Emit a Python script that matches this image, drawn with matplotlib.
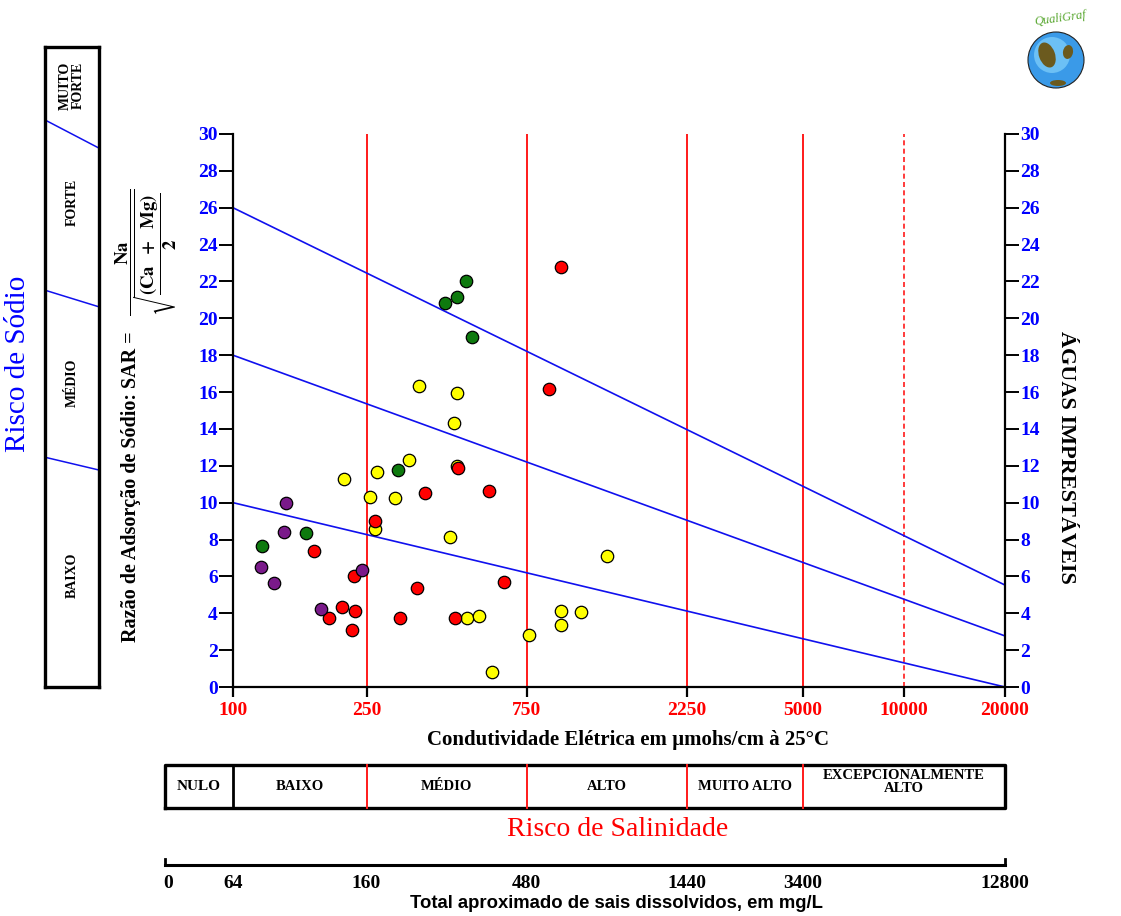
import numpy as np
import matplotlib
matplotlib.use('Agg')
import matplotlib.pyplot as plt
from matplotlib.transforms import blended_transform_factory
from matplotlib.patches import Circle, Ellipse
from matplotlib.ticker import NullLocator

# ---------------- data ----------------
purple_ce = [143.9, 142.2, 120.9, 241.9, 132.5, 182.5]
purple_sar = [9.97, 8.43, 6.53, 6.35, 5.66, 4.23]

green_ce = [311, 165.4, 122.3, 495, 466, 429.4, 516.8]
green_sar = [11.77, 8.34, 7.65, 22.04, 21.17, 20.82, 18.97]

yellow_ce = [214.7, 268, 334, 256, 303.4, 265, 357.7, 466, 455.7, 466, 443.4,
             1300, 499.3, 541, 952, 1092, 952, 764, 592.7]
yellow_sar = [11.28, 11.66, 12.32, 10.32, 10.24, 8.56, 16.33, 15.93, 14.34, 12.0,
              8.15, 7.11, 3.76, 3.87, 4.14, 4.05, 3.38, 2.82, 0.83]

red_ce = [373.6, 265, 174.7, 229.8, 353.5, 210.9, 231, 193.6, 314.6, 225.9,
          950, 876.5, 469.4, 579.4, 642.3, 459.8]
red_sar = [10.54, 9.02, 7.39, 6.04, 5.39, 4.36, 4.14, 3.74, 3.76, 3.09,
           22.8, 16.15, 11.86, 10.63, 5.68, 3.76]

# sodium hazard boundary lines (CE endpoints, SAR endpoints)
line_ce = [100, 20000]
line1_sar = [10, 0]
line2_sar = [18, 2.77]
line3_sar = [26, 5.53]

ce_ticks = [100, 250, 750, 2250, 5000, 10000, 20000]
ce_tick_labels = ['100', '250', '750', '2250', '5000', '10000', '20000']
class_bounds = [250, 750, 2250, 5000]
sar_ticks = list(range(0, 31, 2))

salinity_classes = ['BAIXO', 'MÉDIO', 'ALTO', 'MUITO ALTO', 'EXCEPCIONALMENTE\nALTO']
salinity_edges = [100, 250, 750, 2250, 5000, 20000]
tds_labels = ['64', '160', '480', '1440', '3400', '12800']
tds_ce = [100, 250, 750, 2250, 5000, 20000]

sodium_classes = ['BAIXO', 'MÉDIO', 'FORTE', 'MUITO\nFORTE']

SERIF = ['Liberation Serif', 'DejaVu Serif']
plt.rcParams['font.family'] = SERIF
plt.rcParams['mathtext.fontset'] = 'stix'

W, H = 1121, 916
fig = plt.figure(figsize=(W / 100, H / 100), dpi=100)

def fx(px):
    return px / W

def fy(py):
    return 1 - py / H

ax = fig.add_axes([fx(233), fy(687), fx(1005) - fx(233), fy(134) - fy(687)])
ax.set_xscale('log')
ax.set_xlim(100, 20000)
ax.set_ylim(0, 30)
ax.spines['top'].set_visible(False)
for s in ['left', 'right', 'bottom']:
    ax.spines[s].set_linewidth(1.6)
ax.xaxis.set_minor_locator(NullLocator())
ax.set_xticks(ce_ticks)
ax.set_xticklabels(ce_tick_labels)
ax.set_yticks(sar_ticks)
ax.tick_params(axis='x', which='major', length=7, width=1.6, direction='out',
               labelcolor='red', labelsize=14, pad=4)
ax.tick_params(axis='y', which='major', length=10, width=1.4, direction='out',
               left=True, right=True, labelleft=True, labelright=True,
               labelcolor='blue', labelsize=14, pad=1)
for lab in ax.get_xticklabels() + ax.get_yticklabels():
    lab.set_fontweight('bold')
for t in ax.yaxis.get_major_ticks():
    t.label2.set_fontweight('bold')
    t.label2.set_color('blue')

# vertical class lines
for b in class_bounds:
    ax.axvline(b, color='#ff1a1a', lw=1.4, zorder=1)
ax.axvline(10000, color='#ff1a1a', lw=1.2, ls=(0, (3, 2)), zorder=1)

# sodium boundary lines
for ls in [line1_sar, line2_sar, line3_sar]:
    ax.plot(line_ce, ls, color='#1010ee', lw=1.2, zorder=2)

mk = dict(s=80, edgecolors='black', linewidths=0.9, zorder=3, clip_on=False)
ax.scatter(yellow_ce, yellow_sar, c='#ffff00', **mk)
ax.scatter(red_ce, red_sar, c='#ff0000', **mk)
ax.scatter(purple_ce, purple_sar, c='#7a1a8a', **mk)
ax.scatter(green_ce, green_sar, c='#0e7a0e', **mk)

# axis titles
fig.text(fx(628), fy(740), 'Condutividade Elétrica em µmohs/cm à 25°C',
         ha='center', va='center', fontsize=15, fontweight='bold')
fig.text(fx(131), fy(487), 'Razão de Adsorção de Sódio: SAR =', rotation=90,
         ha='center', va='center', fontsize=14.5, fontweight='bold')
fig.text(fx(146), fy(252),
         r'$\dfrac{\mathbf{Na}}{\sqrt{\dfrac{\mathbf{(Ca\ \ +\ \ Mg)}}{\mathbf{2}}}}$',
         rotation=90, ha='center', va='center', fontsize=13.5)
fig.text(fx(1066), fy(457), 'ÁGUAS IMPRESTÁVEIS', rotation=270,
         ha='center', va='center', fontsize=16, fontweight='bold')

# sodium hazard box (left)
axb = fig.add_axes([fx(45), fy(687), fx(99) - fx(45), fy(47) - fy(687)])
axb.set_xlim(0, 1)
axb.set_ylim(0, 1)
axb.set_xticks([])
axb.set_yticks([])
for s in axb.spines.values():
    s.set_linewidth(2.4)
for yl, yr in [(0.359, 0.339), (0.620, 0.594), (0.886, 0.842)]:
    axb.plot([0, 1], [yl, yr], color='#1010ee', lw=1.1)
for lab, yc in zip(sodium_classes, [0.175, 0.475, 0.757, 0.94]):
    axb.text(0.5, yc, lab, rotation=90, ha='center', va='center',
             fontsize=10, fontweight='bold', linespacing=1.0)
fig.text(fx(18), fy(364), 'Risco de Sódio', rotation=90, ha='center',
         va='center', fontsize=21, color='blue')

# salinity hazard box (bottom)
bt = blended_transform_factory(ax.transData, fig.transFigure)
ba = blended_transform_factory(ax.transAxes, fig.transFigure)
x0 = (165 - 233) / 772
ybot, ytop = fy(808), fy(765)
ax.plot([x0, 1, 1, x0, x0], [ybot, ybot, ytop, ytop, ybot], color='black',
        lw=2.4, transform=ba, clip_on=False)
ax.plot([100, 100], [ybot, ytop], color='black', lw=2.0, transform=bt, clip_on=False)
for b in class_bounds:
    ax.plot([b, b], [ybot, ytop], color='#ff1a1a', lw=1.4, transform=bt, clip_on=False)
ymid = (ybot + ytop) / 2
ax.text(x0 / 2, ymid, 'NULO', transform=ba, ha='center', va='center',
        fontsize=11, fontweight='bold')
for lab, a, b in zip(salinity_classes, salinity_edges[:-1], salinity_edges[1:]):
    ax.text(np.sqrt(a * b), ymid + (0.005 if '\n' in lab else 0), lab, transform=bt,
            ha='center', va='center', fontsize=10.5, fontweight='bold',
            linespacing=1.0)
fig.text(fx(618), fy(830), 'Risco de Salinidade', ha='center', va='center',
         fontsize=20, color='red')

# total dissolved solids scale
yl = fy(865)
ax.plot([x0, 1], [yl, yl], color='black', lw=2.2, transform=ba, clip_on=False)
ax.plot([x0, x0], [yl, yl + 0.007], color='black', lw=2.0, transform=ba, clip_on=False)
ax.plot([1, 1], [yl, yl + 0.007], color='black', lw=2.0, transform=ba, clip_on=False)
ax.text(x0 + 0.004, fy(884), '0', transform=ba, ha='center', va='center',
        fontsize=14, fontweight='bold')
for lab, c in zip(tds_labels, tds_ce):
    ax.text(c, fy(884), lab, transform=bt, ha='center', va='center',
            fontsize=14, fontweight='bold')
fig.text(fx(616), fy(903), 'Total aproximado de sais dissolvidos, em mg/L',
         ha='center', va='center', fontsize=13.3, fontweight='bold',
         family=['Liberation Sans', 'DejaVu Sans'])

# logo
axl = fig.add_axes([fx(1010), fy(110), fx(1121) - fx(1010), fy(0) - fy(110)])
axl.set_xlim(0, 111)
axl.set_ylim(0, 110)
axl.set_aspect('equal')
axl.axis('off')
axl.add_patch(Circle((46, 50), 28, facecolor='#3a9ae8', edgecolor='#222222', lw=0.8))
axl.add_patch(Circle((42, 55), 18, facecolor='#6cc0f5', edgecolor='none'))
axl.add_patch(Ellipse((37, 55), 16, 26, angle=20, facecolor='#6b5a1e', edgecolor='none'))
axl.add_patch(Ellipse((58, 58), 10, 14, angle=-10, facecolor='#6b5a1e', edgecolor='none'))
axl.add_patch(Ellipse((48, 27), 16, 6, facecolor='#6b5a1e', edgecolor='none'))
axl.text(50, 92, 'QualiGraf', ha='center', va='center', fontsize=9,
         color='#5aa832', style='italic', rotation=8)

fig.savefig('out.png', dpi=100, facecolor='white')
